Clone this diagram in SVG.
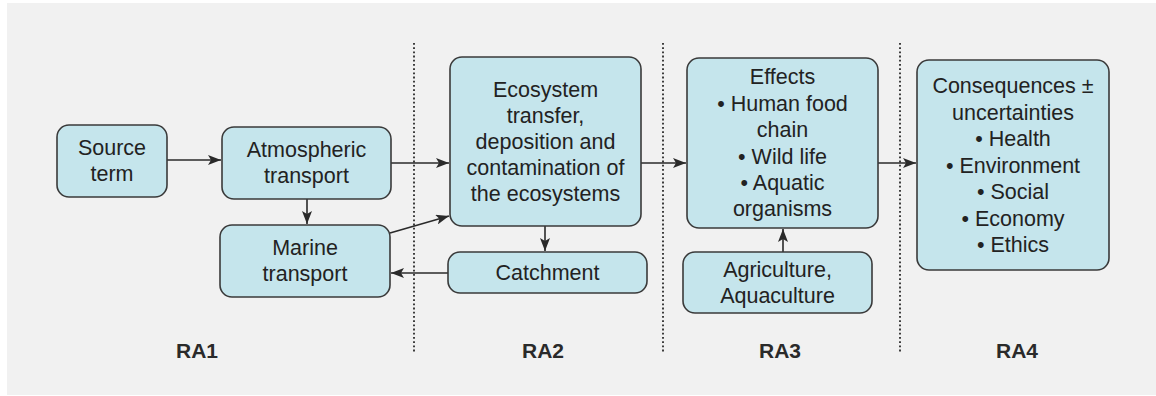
<svg xmlns="http://www.w3.org/2000/svg" width="1156" height="396" viewBox="0 0 1156 396">
<defs>
<style>
.box{fill:#c5e5ec;stroke:#3a3a3a;stroke-width:1.6}
.t{font-family:"Liberation Sans",Arial,sans-serif;font-size:21.5px;fill:#222;text-anchor:middle}
.ra{font-family:"Liberation Sans",Arial,sans-serif;font-size:21px;font-weight:bold;fill:#2a2a2a;text-anchor:middle}
.c{stroke:#2a2a2a;stroke-width:1.6;fill:none;marker-end:url(#ah)}
.dot{stroke:#2a2a2a;stroke-width:1.8;stroke-dasharray:1.8 2.4;fill:none}
</style>
<marker id="ah" viewBox="0 0 13 10" refX="13" refY="5" markerWidth="13" markerHeight="10" markerUnits="userSpaceOnUse" orient="auto">
<path d="M0,0 L13,5 L0,10 L3,5 z" fill="#2a2a2a"/>
</marker>
</defs>
<rect x="0" y="0" width="1156" height="396" fill="#ffffff"/>
<rect x="7" y="3" width="1149" height="392" fill="#f1f1f1"/>
<g id="dividers">
<line class="dot" x1="414" y1="43" x2="414" y2="352"/>
<line class="dot" x1="663" y1="43" x2="663" y2="352"/>
<line class="dot" x1="900" y1="43" x2="900" y2="352"/>
</g>
<g id="connectors">
<line class="c" x1="167" y1="160" x2="221" y2="160"/>
<line class="c" x1="391" y1="163" x2="449" y2="163"/>
<line class="c" x1="307" y1="199" x2="307" y2="224"/>
<line class="c" x1="390" y1="233" x2="449" y2="216"/>
<line class="c" x1="448" y1="273" x2="391" y2="273"/>
<line class="c" x1="545" y1="226" x2="545" y2="251"/>
<line class="c" x1="641" y1="163" x2="686" y2="163"/>
<line class="c" x1="783" y1="252" x2="783" y2="229"/>
<line class="c" x1="878" y1="163" x2="916" y2="163"/>
</g>
<g id="source">
<rect class="box" x="57" y="125" width="110" height="72" rx="12"/>
<text class="t" x="112" y="155">Source</text>
<text class="t" x="112" y="181">term</text>
</g>
<g id="atmospheric">
<rect class="box" x="222" y="127" width="169" height="72" rx="12"/>
<text class="t" x="306.5" y="157">Atmospheric</text>
<text class="t" x="306.5" y="183">transport</text>
</g>
<g id="marine">
<rect class="box" x="220" y="225" width="170" height="72" rx="12"/>
<text class="t" x="305" y="255">Marine</text>
<text class="t" x="305" y="281">transport</text>
</g>
<g id="ecosystem">
<rect class="box" x="450" y="57" width="191" height="169" rx="12"/>
<text class="t" x="545.5" y="97">Ecosystem</text>
<text class="t" x="545.5" y="123">transfer,</text>
<text class="t" x="545.5" y="149">deposition and</text>
<text class="t" x="545.5" y="175">contamination of</text>
<text class="t" x="545.5" y="201">the ecosystems</text>
</g>
<g id="catchment">
<rect class="box" x="448" y="252" width="199" height="41" rx="12"/>
<text class="t" x="547.5" y="280">Catchment</text>
</g>
<g id="effects">
<rect class="box" x="687" y="58" width="191" height="170" rx="12"/>
<text class="t" x="782.5" y="84">Effects</text>
<text class="t" x="782.5" y="111">• Human food</text>
<text class="t" x="782.5" y="137">chain</text>
<text class="t" x="782.5" y="164">• Wild life</text>
<text class="t" x="782.5" y="190">• Aquatic</text>
<text class="t" x="782.5" y="216">organisms</text>
</g>
<g id="agriculture">
<rect class="box" x="683" y="252" width="189" height="61" rx="12"/>
<text class="t" x="777.5" y="277">Agriculture,</text>
<text class="t" x="777.5" y="303">Aquaculture</text>
</g>
<g id="consequences">
<rect class="box" x="917" y="60" width="192" height="210" rx="12"/>
<text class="t" x="1013" y="93">Consequences ±</text>
<text class="t" x="1013" y="120">uncertainties</text>
<text class="t" x="1013" y="146">• Health</text>
<text class="t" x="1013" y="173">• Environment</text>
<text class="t" x="1013" y="199">• Social</text>
<text class="t" x="1013" y="226">• Economy</text>
<text class="t" x="1013" y="252">• Ethics</text>
</g>
<g id="labels">
<text class="ra" x="197" y="358">RA1</text>
<text class="ra" x="543" y="358">RA2</text>
<text class="ra" x="780" y="358">RA3</text>
<text class="ra" x="1017" y="358">RA4</text>
</g>
</svg>
